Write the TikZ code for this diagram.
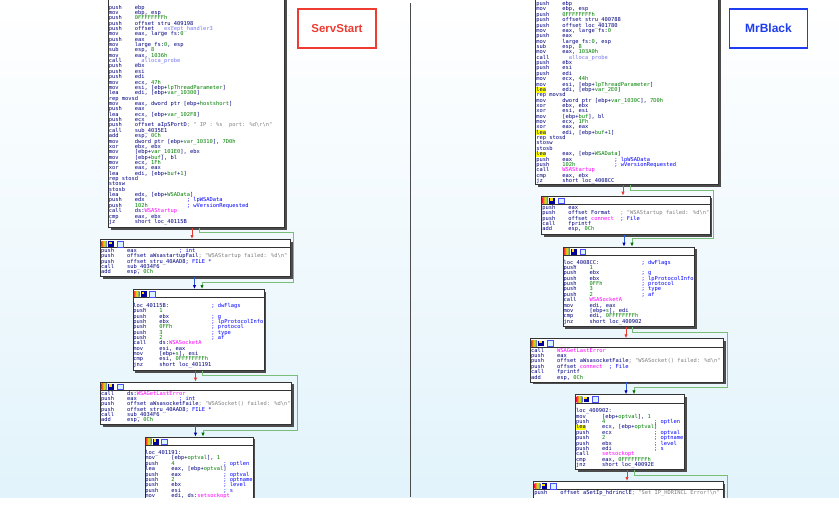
\documentclass[tikz,border=0pt]{standalone}
\usepackage{fontspec}
\newfontfamily\idafont{DejaVu Sans Mono}
\newfontfamily\tagfont{Liberation Sans}
\usetikzlibrary{arrows.meta, shadows}
\definecolor{idaNavy}{RGB}{0,0,128}
\definecolor{idaGrn}{RGB}{0,128,0}
\definecolor{idaImp}{RGB}{255,0,255}
\definecolor{idaLib}{RGB}{120,120,240}
\definecolor{idaCmt}{RGB}{0,0,255}
\definecolor{idaStr}{RGB}{128,128,128}
\definecolor{idaHl}{RGB}{255,255,0}
\definecolor{idaBg}{RGB}{226,243,251}
\definecolor{edgeR}{RGB}{230,60,50}
\definecolor{edgeG}{RGB}{120,190,120}
\definecolor{edgeB}{RGB}{40,90,220}
\definecolor{tagR}{RGB}{238,60,50}
\definecolor{tagB}{RGB}{30,60,240}
\newlength\chw
\newcommand\asmsize{\idafont\fontsize{5.4pt}{5.36pt}\selectfont}
\AtBeginDocument{\settowidth\chw{\asmsize 0}}
\lineskiplimit=-20pt
% mnemonic column, then operands
\newcommand\asmI[2]{\makebox[8\chw][l]{#1}#2}
% pad up to the comment column
\newcommand\asmC[2]{\makebox[24\chw][l]{#1}\textcolor{idaCmt}{#2}}
\newcommand\kgr[1]{\textcolor{idaGrn}{#1}}
\newcommand\kimp[1]{\textcolor{idaImp}{#1}}
\newcommand\klib[1]{\textcolor{idaLib}{#1}}
\newcommand\kstr[1]{\textcolor{idaStr}{#1}}
\newcommand\khl[1]{\makebox[0pt][l]{\textcolor{idaHl}{\rule[-1.2pt]{3\chw}{5.2pt}}}#1}
\newcommand\kbs{\textbackslash}
\newcommand\sr{\rule{0pt}{4.2pt}}
% title bar of a block: rule and three icons
\newcommand\blkhead[1]{%
  \draw[hdrline] ([yshift=-8.5pt]#1.north west) -- ([yshift=-8.5pt]#1.north east);
  \shade[left color=red!80, right color=blue!70, middle color=yellow!80!green]
    ([xshift=1.3pt,yshift=-2.2pt]#1.north west) rectangle ++(5.8,5.6);
  \fill[blue!60!black] ([xshift=8.3pt,yshift=-2.2pt]#1.north west) rectangle ++(5.8,5.6);
  \fill[yellow!80!orange] ([xshift=9pt,yshift=-2.6pt]#1.north west) rectangle ++(2.5,2.3);
  \draw[blue!70, fill=cyan!15, line width=0.4pt]
    ([xshift=17pt,yshift=-2.2pt]#1.north west) rectangle ++(5.8,5.6);
}
\tikzset{
  blk/.style={draw=black!80, line width=0.7pt, fill=white, inner sep=0pt, anchor=north west,
    drop shadow={shadow xshift=2.2pt, shadow yshift=-2.2pt, fill=black!70, opacity=1}},
  asm/.style={font=\asmsize, text=idaNavy, align=left, inner sep=0pt, anchor=north west},
  hdrline/.style={black!80, line width=0.6pt},
  redge/.style={edgeR, line width=0.8pt, -{Latex[length=4pt,width=3.4pt]}},
  gedge/.style={edgeG, line width=0.8pt, -{Latex[length=4pt,width=3.4pt,color=green!45!black]}},
  bedge/.style={edgeB, line width=0.8pt, -{Latex[length=4pt,width=3.4pt,color=blue!70!black]}},
  tagbox/.style={draw, line width=1.5pt, fill=white, minimum width=78pt, minimum height=39pt,
    font=\tagfont\bfseries\fontsize{11.5pt}{13pt}\selectfont},
}
\begin{document}
\begin{tikzpicture}[x=1pt, y=-1pt]
\useasboundingbox (0,0) rectangle (839,504);
\fill[white] (0,0) rectangle (839,504);
\begin{scope}
\clip (0,0) rectangle (839,497);
\shade[top color=white, bottom color=idaBg] (0,0) rectangle (839,497);
\draw[black!70, line width=1.2pt] (410.5,3) -- (410.5,497);

% ---------------- ServStart ----------------
\node[blk, minimum width=176pt, minimum height=247pt] (L1) at (108,-20) {};
\node[asm] (L1t) at (108.6,4.6) {\sr\asmI{push}{ebp}\\
\asmI{mov}{ebp, esp}\\
\asmI{push}{\kgr{0FFFFFFFFh}}\\
\asmI{push}{offset stru\_409198}\\
\asmI{push}{offset \klib{\_\_except\_handler3}}\\
\asmI{mov}{eax, large fs:\kgr{0}}\\
\asmI{push}{eax}\\
\asmI{mov}{large fs:\kgr{0}, esp}\\
\asmI{sub}{esp, \kgr{8}}\\
\asmI{mov}{eax, \kgr{1036h}}\\
\asmI{call}{\klib{\_\_alloca\_probe}}\\
\asmI{push}{ebx}\\
\asmI{push}{esi}\\
\asmI{push}{edi}\\
\asmI{mov}{ecx, \kgr{47h}}\\
\asmI{mov}{esi, [ebp+\kgr{lpThreadParameter}]}\\
\asmI{lea}{edi, [ebp+\kgr{var\_10300}]}\\
rep movsd\\
\asmI{mov}{eax, dword ptr [ebp+\kgr{hostshort}]}\\
\asmI{push}{eax}\\
\asmI{lea}{ecx, [ebp+\kgr{var\_102F8}]}\\
\asmI{push}{ecx}\\
\asmI{push}{offset aIpSPortD}\kstr{ ; " IP : \%s\ \ port: \%d\kbs r\kbs n"}\\
\asmI{call}{sub\_4035E1}\\
\asmI{add}{esp, \kgr{0Ch}}\\
\asmI{mov}{dword ptr [ebp+\kgr{var\_10310}], \kgr{7D0h}}\\
\asmI{xor}{ebx, ebx}\\
\asmI{mov}{[ebp+\kgr{var\_101E0}], ebx}\\
\asmI{mov}{[ebp+\kgr{buf}], bl}\\
\asmI{mov}{ecx, \kgr{1Fh}}\\
\asmI{xor}{eax, eax}\\
\asmI{lea}{edi, [ebp+\kgr{buf}+\kgr{1}]}\\
rep stosd\\
stosw\\
stosb\\
\asmI{lea}{edx, [ebp+\kgr{WSAData}]}\\
\asmC{\asmI{push}{edx}}{; lpWSAData}\\
\asmC{\asmI{push}{\kgr{102h}}}{; wVersionRequested}\\
\asmI{call}{ds:\kimp{WSAStartup}}\\
\asmI{cmp}{eax, ebx}\\
\asmI{jz}{short loc\_40115B}};

\node[blk, minimum width=190pt, minimum height=37pt] (L2) at (100,239) {};
\blkhead{L2}
\node[asm] (L2t) at (100.8,248) {\sr\asmC{\asmI{push}{eax}}{; int}\\
\asmI{push}{offset aWsastartupFail}\kstr{ ; "WSAStartup failed: \%d\kbs n"}\\
\asmI{push}{offset stru\_40AAD8}\textcolor{idaCmt}{ ; FILE *}\\
\asmI{call}{sub\_4034F6}\\
\asmI{add}{esp, \kgr{0Ch}}};

\node[blk, minimum width=131pt, minimum height=81pt] (L3) at (132.5,289) {};
\blkhead{L3}
\node[asm] (L3t) at (133.2,297.6) {\sr\\
\asmC{loc\_40115B:}{; dwFlags}\\
\asmI{push}{\kgr{1}}\\
\asmC{\asmI{push}{ebx}}{; g}\\
\asmC{\asmI{push}{ebx}}{; lpProtocolInfo}\\
\asmC{\asmI{push}{\kgr{0FFh}}}{; protocol}\\
\asmC{\asmI{push}{\kgr{3}}}{; type}\\
\asmC{\asmI{push}{\kgr{2}}}{; af}\\
\asmI{call}{ds:\kimp{WSASocketA}}\\
\asmI{mov}{esi, eax}\\
\asmI{mov}{[ebp+\kgr{s}], esi}\\
\asmI{cmp}{esi, \kgr{0FFFFFFFFh}}\\
\asmI{jnz}{short loc\_401191}};

\node[blk, minimum width=191pt, minimum height=42.5pt] (L4) at (100,381.7) {};
\blkhead{L4}
\node[asm] (L4t) at (100.8,390.6) {\sr\asmI{call}{ds:\kimp{WSAGetLastError}}\\
\asmC{\asmI{push}{eax}}{; int}\\
\asmI{push}{offset aWsasocketFaile}\kstr{ ; "WSASocket() failed: \%d\kbs n"}\\
\asmI{push}{offset stru\_40AAD8}\textcolor{idaCmt}{ ; FILE *}\\
\asmI{call}{sub\_4034F6}\\
\asmI{add}{esp, \kgr{0Ch}}};

\node[blk, minimum width=108pt, minimum height=90pt] (L5) at (144.5,436.7) {};
\blkhead{L5}
\node[asm] (L5t) at (145.2,444.8) {\sr\\
loc\_401191:\\
\asmI{mov}{[ebp+\kgr{optval}], \kgr{1}}\\
\asmC{\asmI{push}{\kgr{4}}}{; optlen}\\
\asmI{lea}{eax, [ebp+\kgr{optval}]}\\
\asmC{\asmI{push}{eax}}{; optval}\\
\asmC{\asmI{push}{\kgr{2}}}{; optname}\\
\asmC{\asmI{push}{ebx}}{; level}\\
\asmC{\asmI{push}{esi}}{; s}\\
\asmI{mov}{edi, ds:\kimp{setsockopt}}};

% edges, left graph
\coordinate (a1) at (192,0);
\coordinate (a2) at (199,0);
\coordinate (a3) at (202,0);
\coordinate (a4) at (194.5,0);
\coordinate (a5) at (195.5,0);
\coordinate (a6) at (203,0);
\coordinate (ga) at (293,282);
\coordinate (gb) at (297,430);
\draw[redge] (L1.south -| a1) -- (L2.north -| a1);
\draw[gedge] (L1.south -| a2) -- ++(0,4.5) -| (ga) -| (L3.north -| a3);
\draw[bedge] (L2.south -| a4) -- (L3.north -| a4);
\draw[redge] (L3.south -| a5) -- (L4.north -| a5);
\draw[gedge] (L3.south -| a3) -- ++(0,4.5) -| (gb) -| (L5.north -| a6);
\draw[bedge] (L4.south -| a5) -- (L5.north -| a5);

% ---------------- MrBlack ----------------
\node[blk, minimum width=183pt, minimum height=204.3pt] (R1) at (535,-20) {};
\node[asm] (R1t) at (536.2,1.2) {\sr\asmI{push}{ebp}\\
\asmI{mov}{ebp, esp}\\
\asmI{push}{\kgr{0FFFFFFFFh}}\\
\asmI{push}{offset stru\_400788}\\
\asmI{push}{offset loc\_401780}\\
\asmI{mov}{eax, large fs:\kgr{0}}\\
\asmI{push}{eax}\\
\asmI{mov}{large fs:\kgr{0}, esp}\\
\asmI{sub}{esp, \kgr{8}}\\
\asmI{mov}{eax, \kgr{103A0h}}\\
\asmI{call}{\klib{\_\_alloca\_probe}}\\
\asmI{push}{ebx}\\
\asmI{push}{esi}\\
\asmI{push}{edi}\\
\asmI{mov}{ecx, \kgr{44h}}\\
\asmI{mov}{esi, [ebp+\kgr{lpThreadParameter}]}\\
\asmI{\khl{lea}}{edi, [ebp+\kgr{var\_2E0}]}\\
rep movsd\\
\asmI{mov}{dword ptr [ebp+\kgr{var\_1030C}], \kgr{7D0h}}\\
\asmI{xor}{ebx, ebx}\\
\asmI{xor}{esi, esi}\\
\asmI{mov}{[ebp+\kgr{buf}], bl}\\
\asmI{mov}{ecx, \kgr{1Fh}}\\
\asmI{xor}{eax, eax}\\
\asmI{\khl{lea}}{edi, [ebp+\kgr{buf}+\kgr{1}]}\\
rep stosd\\
stosw\\
stosb\\
\asmI{\khl{lea}}{eax, [ebp+\kgr{WSAData}]}\\
\asmC{\asmI{push}{eax}}{; lpWSAData}\\
\asmC{\asmI{push}{\kgr{102h}}}{; wVersionRequested}\\
\asmI{call}{\kimp{WSAStartup}}\\
\asmI{cmp}{eax, ebx}\\
\asmI{jz}{short loc\_4008CC}};

\node[blk, minimum width=168.5pt, minimum height=38.6pt] (R2) at (541,195.7) {};
\blkhead{R2}
\node[asm] (R2t) at (542.2,205) {\sr\asmI{push}{eax}\\
\asmC{\asmI{push}{offset Format}}{\kstr{; "WSAStartup failed: \%d\kbs n"}}\\
\asmC{\asmI{push}{offset \kimp{connect}}}{; File}\\
\asmI{call}{fprintf}\\
\asmI{add}{esp, \kgr{0Ch}}};

\node[blk, minimum width=131.3pt, minimum height=79.3pt] (R3) at (562.7,246.7) {};
\blkhead{R3}
\node[asm] (R3t) at (563.4,254.4) {\sr\\
\asmC{loc\_4008CC:}{; dwFlags}\\
\asmI{push}{\kgr{1}}\\
\asmC{\asmI{push}{ebx}}{; g}\\
\asmC{\asmI{push}{ebx}}{; lpProtocolInfo}\\
\asmC{\asmI{push}{\kgr{0FFh}}}{; protocol}\\
\asmC{\asmI{push}{\kgr{3}}}{; type}\\
\asmC{\asmI{push}{\kgr{2}}}{; af}\\
\asmI{call}{\kimp{WSASocketA}}\\
\asmI{mov}{edi, eax}\\
\asmI{mov}{[ebp+\kgr{s}], edi}\\
\asmI{cmp}{edi, \kgr{0FFFFFFFFh}}\\
\asmI{jnz}{short loc\_400902}};

\node[blk, minimum width=193.3pt, minimum height=43.4pt] (R4) at (530,338.3) {};
\blkhead{R4}
\node[asm] (R4t) at (530.9,347.8) {\sr\asmI{call}{\kimp{WSAGetLastError}}\\
\asmI{push}{eax}\\
\asmI{push}{offset aWsasocketFaile}\kstr{ ; "WSASocket() failed: \%d\kbs n"}\\
\asmC{\asmI{push}{offset \kimp{connect}}}{; File}\\
\asmI{call}{fprintf}\\
\asmI{add}{esp, \kgr{0Ch}}};

\node[blk, minimum width=108.7pt, minimum height=75pt] (R5) at (575.3,394.3) {};
\blkhead{R5}
\node[asm] (R5t) at (576,403.1) {\sr\\
loc\_400902:\\
\asmI{mov}{[ebp+\kgr{optval}], \kgr{1}}\\
\asmC{\asmI{push}{\kgr{4}}}{; optlen}\\
\asmI{\khl{lea}}{ecx, [ebp+\kgr{optval}]}\\
\asmC{\asmI{push}{ecx}}{; optval}\\
\asmC{\asmI{push}{\kgr{2}}}{; optname}\\
\asmC{\asmI{push}{ebx}}{; level}\\
\asmC{\asmI{push}{edi}}{; s}\\
\asmI{call}{\kimp{setsockopt}}\\
\asmI{cmp}{eax, \kgr{0FFFFFFFFh}}\\
\asmI{jnz}{short loc\_40092E}};

\node[blk, minimum width=189.4pt, minimum height=40pt] (R6) at (533.3,481) {};
\blkhead{R6}
\node[asm] (R6t) at (534.2,490.5) {\sr\asmI{push}{offset aSetIp\_hdrinclE}\kstr{ ; "Set IP\_HDRINCL Error!\kbs n"}};

% edges, right graph
\coordinate (b1) at (623,0);
\coordinate (b2) at (630,0);
\coordinate (b3) at (632,0);
\coordinate (b4) at (624,0);
\coordinate (b5) at (626,0);
\coordinate (b6) at (634,0);
\coordinate (b7) at (627,0);
\coordinate (gc) at (713,238);
\coordinate (gd) at (727,387);
\coordinate (ge) at (727,510);
\draw[redge] (R1.south -| b1) -- (R2.north -| b1);
\draw[gedge] (R1.south -| b2) -- ++(0,5.5) -| (gc) -| (R3.north -| b3);
\draw[bedge] (R2.south -| b4) -- (R3.north -| b4);
\draw[redge] (R3.south -| b5) -- (R4.north -| b5);
\draw[gedge] (R3.south -| b3) -- ++(0,5.5) -| (gd) -| (R5.north -| b6);
\draw[bedge] (R4.south -| b5) -- (R5.north -| b5);
\draw[redge] (R5.south -| b7) -- (R6.north -| b7);
\draw[edgeG, line width=0.8pt] (R5.south -| b6) -- ++(0,5.5) -| (ge);
\end{scope}

% panel tags
\node[tagbox, draw=tagR, text=tagR] (servstart) at (337,28.5) {ServStart};
\node[tagbox, draw=tagB, text=tagB, font=\tagfont\bfseries\fontsize{12pt}{14pt}\selectfont] (mrblack) at (768.5,28.5) {MrBlack};
\end{tikzpicture}
\end{document}
